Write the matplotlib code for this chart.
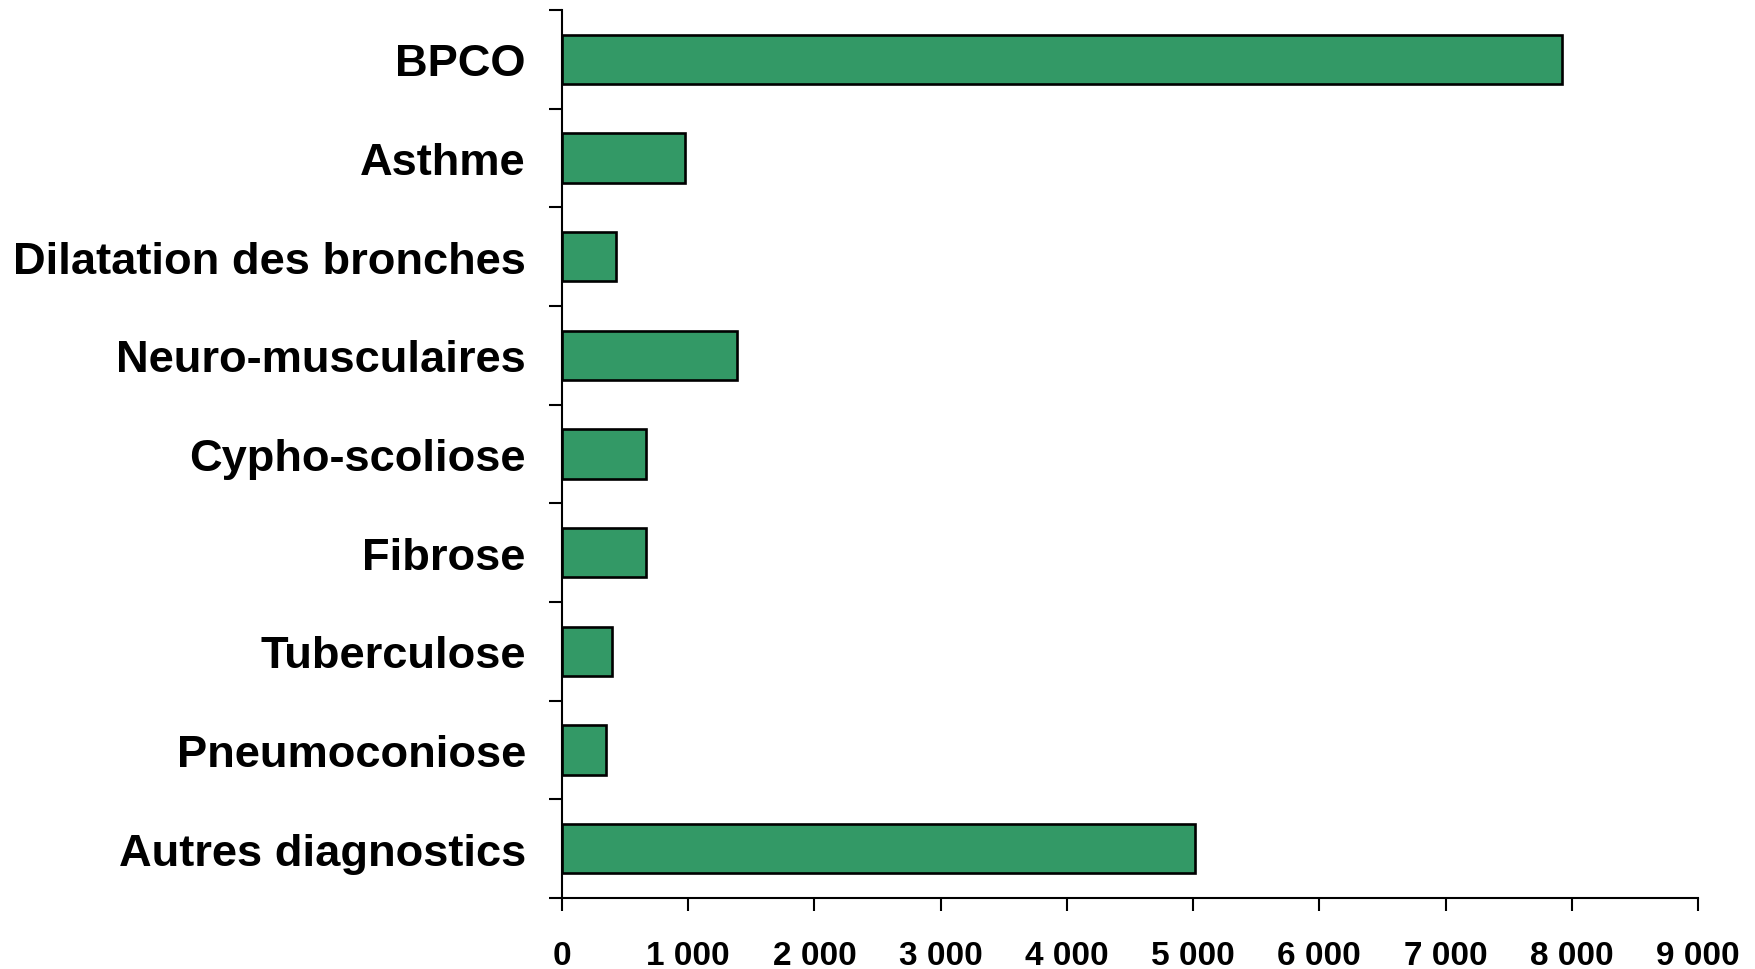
import matplotlib
matplotlib.use("Agg")
import matplotlib.pyplot as plt
import numpy as np

plt.rcParams['font.family'] = ['Liberation Sans', 'DejaVu Sans']
plt.rcParams['font.weight'] = 'bold'

# Data
categories = ["BPCO", "Asthme", "Dilatation des bronches", "Neuro-musculaires",
              "Cypho-scoliose", "Fibrose", "Tuberculose", "Pneumoconiose",
              "Autres diagnostics"]
values = [7925, 973, 425, 1383, 668, 668, 396, 352, 5016]
x_ticks = [0, 1000, 2000, 3000, 4000, 5000, 6000, 7000, 8000, 9000]
x_tick_labels = ["0", "1 000", "2 000", "3 000", "4 000", "5 000",
                 "6 000", "7 000", "8 000", "9 000"]

fig = plt.figure(figsize=(17.55, 9.7), dpi=100)
ax = fig.add_axes([0.3202, 0.0732, 0.9675 - 0.3202, 0.9887 - 0.0732])

y = np.arange(len(categories))
ax.barh(y, values, height=0.5, color='#339966', edgecolor='black', linewidth=1.9)

ax.set_xlim(0, 9000)
ax.set_ylim(len(categories) - 0.5, -0.5)

# category labels on major ticks (hidden marks), tick marks between categories
ax.set_yticks(y)
ax.set_yticklabels(categories, fontsize=32.6, fontweight='bold')
ax.tick_params(axis='y', which='major', length=0, pad=26)
ax.set_yticks(np.arange(len(categories) + 1) - 0.5, minor=True)
ax.tick_params(axis='y', which='minor', length=9.5, width=1.5, direction='out')

ax.set_xticks(x_ticks)
ax.set_xticklabels(x_tick_labels, fontsize=24, fontweight='bold')
ax.tick_params(axis='x', length=9.5, width=1.5, direction='out', pad=21)

for side in ['top', 'right']:
    ax.spines[side].set_visible(False)
for side in ['left', 'bottom']:
    ax.spines[side].set_linewidth(1.5)

fig.savefig("out.png", dpi=100)
